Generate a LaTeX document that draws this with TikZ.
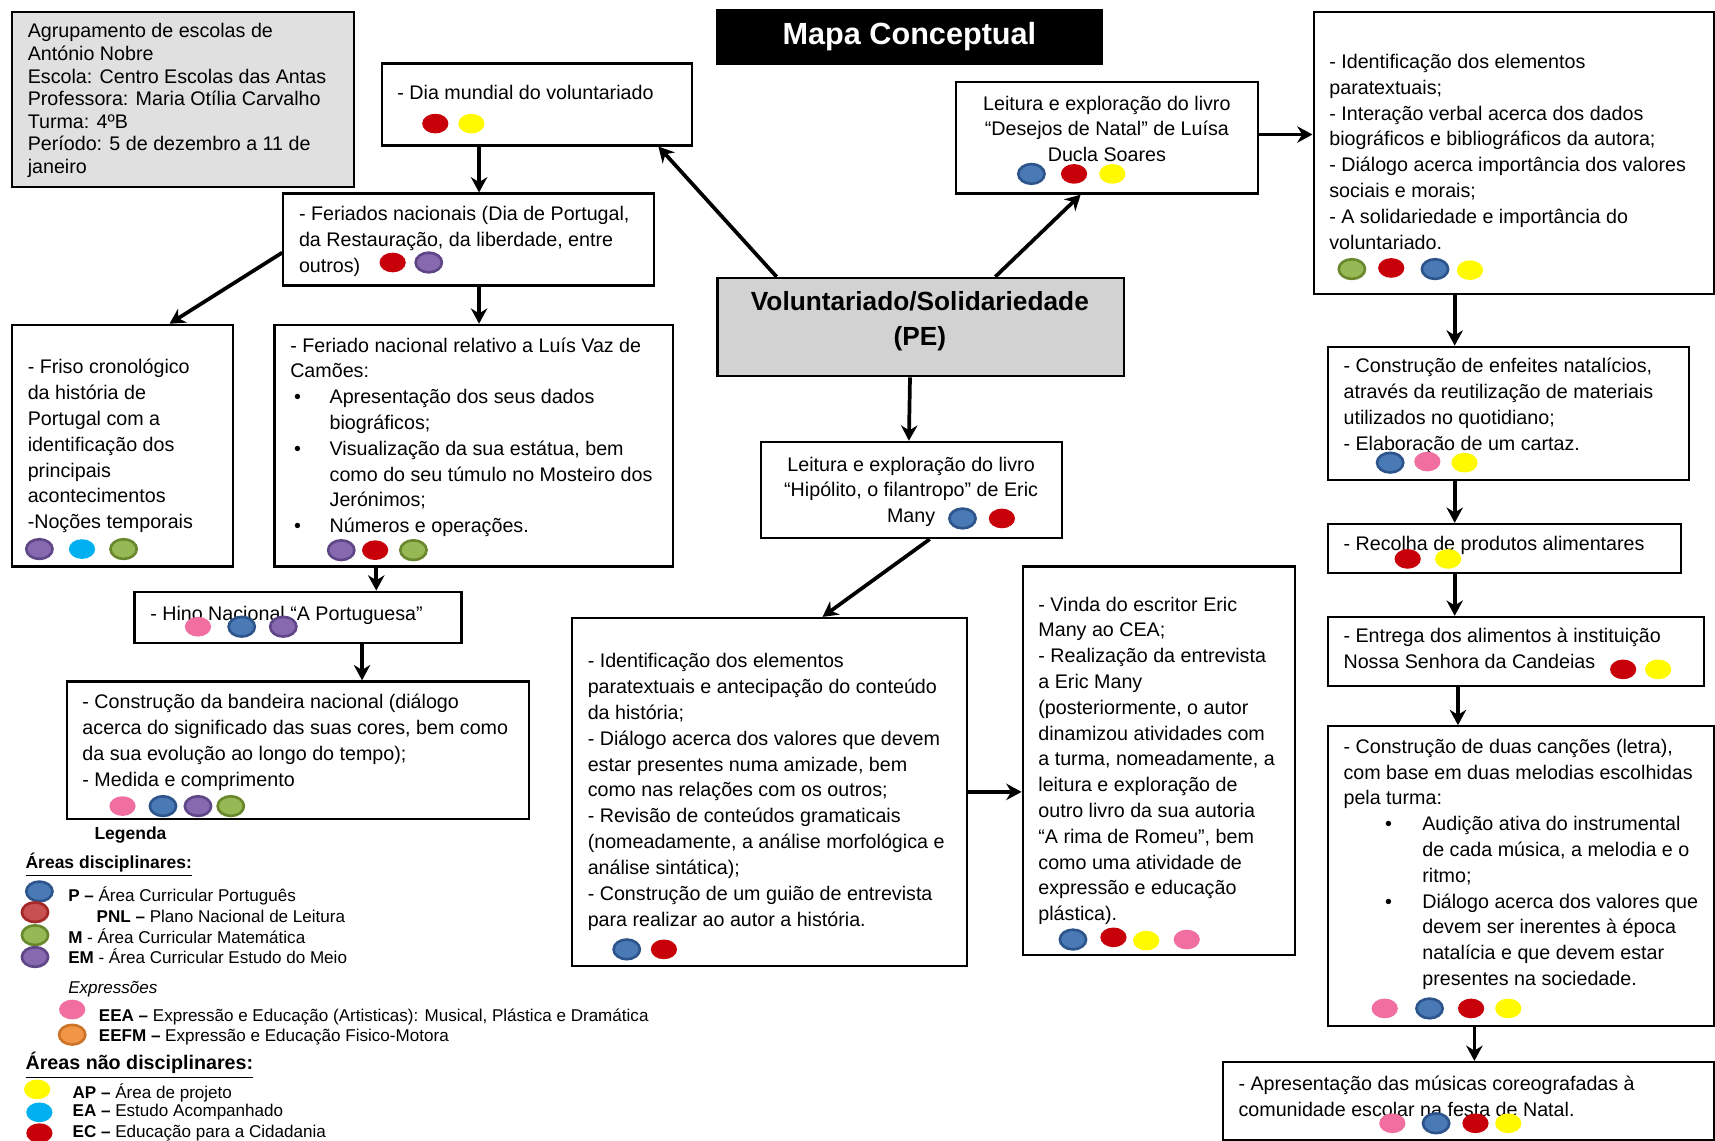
\documentclass[tikz,border=0pt]{standalone}
\usepackage{fontspec}
\setmainfont{Liberation Sans}
\usetikzlibrary{arrows.meta}

\definecolor{azul}{RGB}{74,122,182}
\definecolor{azulesc}{RGB}{45,85,140}
\definecolor{vermelho}{RGB}{200,0,10}
\definecolor{amarelo}{RGB}{255,250,0}
\definecolor{roxo}{RGB}{135,105,175}
\definecolor{roxoesc}{RGB}{95,70,135}
\definecolor{verde}{RGB}{150,185,85}
\definecolor{verdeesc}{RGB}{105,135,45}
\definecolor{rosa}{RGB}{240,110,160}
\definecolor{ciano}{RGB}{0,176,240}
\definecolor{laranja}{RGB}{240,150,70}
\definecolor{laranjaesc}{RGB}{205,115,40}
\definecolor{pnl}{RGB}{200,80,80}
\definecolor{pnlesc}{RGB}{165,40,40}
\definecolor{cinza}{RGB}{224,224,224}
\definecolor{cinzacentro}{RGB}{210,210,210}

\newcommand{\bola}[3]{\path[#1] (#2,#3) ellipse (6pt and 4.5pt);}

\begin{document}
\begin{tikzpicture}[x=0.5pt, y=-0.5pt]
        % Define styles for nodes, dots and arrows
        \tikzstyle{box} = [rectangle, draw=black, line width=1pt, inner sep=0pt, anchor=north west]
        \tikzstyle{txt} = [inner sep=0pt, anchor=north west, align=left, font=\fontsize{9}{11.8}\selectfont, execute at begin node={\strut}]
        \tikzstyle{ctxt} = [txt, anchor=north, align=center]
        \tikzstyle{leg} = [inner sep=0pt, anchor=west, font=\fontsize{7.8}{9}\selectfont]
        \tikzstyle{arrow} = [line width=1.7pt, -{Stealth[length=7pt, width=7.5pt]}]
        \tikzstyle{pazul} = [fill=azul, draw=azulesc, line width=1.2pt]
        \tikzstyle{pverm} = [fill=vermelho]
        \tikzstyle{pamar} = [fill=amarelo]
        \tikzstyle{proxo} = [fill=roxo, draw=roxoesc, line width=1.2pt]
        \tikzstyle{pverde} = [fill=verde, draw=verdeesc, line width=1.2pt]
        \tikzstyle{prosa} = [fill=rosa]
        \tikzstyle{pciano} = [fill=ciano]
        \tikzstyle{plaranja} = [fill=laranja, draw=laranjaesc, line width=1.2pt]
        \tikzstyle{ppnl} = [fill=pnl, draw=pnlesc, line width=1.2pt]

        \path[use as bounding box, fill=white] (0,0) rectangle (1568,1043);

        % Title and header
        \node (titulo) [rectangle, fill=black, text=white, inner sep=0pt, minimum width=176.5pt, minimum height=25.5pt, font=\fontsize{14}{16}\selectfont\bfseries] at (831.5,33.5) {Mapa Conceptual};
        \node (info) [box, fill=cinza, minimum width=156.5pt, minimum height=80pt] at (10,10) {};
        \node (info-t) [txt, font=\fontsize{9}{10.3}\selectfont] at (25,21.3) {Agrupamento de escolas de\\António Nobre\\Escola: Centro Escolas das Antas\\Professora: Maria Otília Carvalho\\Turma: 4ºB\\Período: 5 de dezembro a 11 de\\janeiro};

        % Central theme
        \node (centro) [box, fill=cinzacentro, minimum width=186pt, minimum height=45pt] at (655,253) {};
        \node (centro-t) [ctxt, font=\fontsize{12}{16}\selectfont\bfseries] at (841,266) {Voluntariado/Solidariedade\\(PE)};

        % Left branch
        \node (dia) [box, minimum width=142pt, minimum height=37.5pt] at (348,57) {};
        \node (dia-t) [txt] at (363,74.2) {- Dia mundial do voluntariado};
        \bola{pverm}{398}{113} \bola{pamar}{431}{113}

        \node (feriados) [box, minimum width=169.5pt, minimum height=42pt] at (258,176) {};
        \node (feriados-t) [txt] at (273,188.2) {- Feriados nacionais (Dia de Portugal,\\da Restauração, da liberdade, entre\\outros)};
        \bola{pverm}{359}{240} \bola{proxo}{392}{240}

        \node (friso) [box, minimum width=101pt, minimum height=110.5pt] at (10,296) {};
        \node (friso-t) [txt] at (25,328.2) {- Friso cronológico\\da história de\\Portugal com a\\identificação dos\\principais\\acontecimentos\\-Noções temporais};
        \bola{proxo}{36}{502} \bola{pciano}{75}{502} \bola{pverde}{113}{502}

        \node (camoes) [box, minimum width=182pt, minimum height=110.5pt] at (250,296) {};
        \node (camoes-t) [txt] at (265,308.2) {- Feriado nacional relativo a Luís Vaz de\\Camões:\\
            \hspace*{1.75pt}\makebox[16.25pt][l]{\textbullet}Apresentação dos seus dados\\\hspace*{18pt}biográficos;\\
            \hspace*{1.75pt}\makebox[16.25pt][l]{\textbullet}Visualização da sua estátua, bem\\\hspace*{18pt}como do seu túmulo no Mosteiro dos\\\hspace*{18pt}Jerónimos;\\
            \hspace*{1.75pt}\makebox[16.25pt][l]{\textbullet}Números e operações.};
        \bola{proxo}{312}{503} \bola{pverm}{343}{503} \bola{pverde}{378}{503}

        \node (hino) [box, minimum width=149.5pt, minimum height=23.5pt] at (122,540) {};
        \node (hino-t) [txt] at (137,550.2) {- Hino Nacional “A Portuguesa”};
        \bola{prosa}{181}{573} \bola{pazul}{221}{573} \bola{proxo}{259}{573}

        \node (bandeira) [box, minimum width=211.5pt, minimum height=63pt] at (60,622) {};
        \node (bandeira-t) [txt] at (75,634.2) {- Construção da bandeira nacional (diálogo\\acerca do significado das suas cores, bem como\\da sua evolução ao longo do tempo);\\- Medida e comprimento};
        \bola{prosa}{112}{737} \bola{pazul}{149}{737} \bola{proxo}{181}{737} \bola{pverde}{211}{737}

        % Centre branch
        \node (hipolito) [box, minimum width=137.5pt, minimum height=44pt] at (695,403) {};
        \node (hipolito-t) [ctxt] at (833,417.2) {Leitura e exploração do livro\\“Hipólito, o filantropo” de Eric\\Many};
        \bola{pazul}{880}{474} \bola{pverm}{916}{474}

        \node (ident) [box, minimum width=180.5pt, minimum height=159pt] at (522,564) {};
        \node (ident-t) [txt] at (537,597.2) {- Identificação dos elementos\\paratextuais e antecipação do conteúdo\\da história;\\- Diálogo acerca dos valores que devem\\estar presentes numa amizade, bem\\como nas relações com os outros;\\- Revisão de conteúdos gramaticais\\(nomeadamente, a análise morfológica e\\análise sintática);\\- Construção de um guião de entrevista\\para realizar ao autor a história.};
        \bola{pazul}{573}{868} \bola{pverm}{607}{868}

        \node (vinda) [box, minimum width=124.5pt, minimum height=177.5pt] at (934,517) {};
        \node (vinda-t) [txt] at (949,545.2) {- Vinda do escritor Eric\\Many ao CEA;\\- Realização da entrevista\\a Eric Many\\(posteriormente, o autor\\dinamizou atividades com\\a turma, nomeadamente, a\\leitura e exploração de\\outro livro da sua autoria\\“A rima de Romeu”, bem\\como uma atividade de\\expressão e educação\\plástica).};
        \bola{pazul}{981}{859} \bola{pverm}{1018}{857} \bola{pamar}{1048}{860} \bola{prosa}{1085}{859}

        % Right branch
        \node (desejos) [box, minimum width=138pt, minimum height=51pt] at (873,74) {};
        \node (desejos-t) [ctxt] at (1012,87.2) {Leitura e exploração do livro\\“Desejos de Natal” de Luísa\\Ducla Soares};
        \bola{pazul}{943}{159} \bola{pverm}{982}{159} \bola{pamar}{1017}{159}

        \node (dados) [box, minimum width=183pt, minimum height=129pt] at (1200,10) {};
        \node (dados-t) [txt] at (1215,49.2) {- Identificação dos elementos\\paratextuais;\\- Interação verbal acerca dos dados\\biográficos e bibliográficos da autora;\\- Diálogo acerca importância dos valores\\sociais e morais;\\- A solidariedade e importância do\\voluntariado.};
        \bola{pverde}{1236}{246} \bola{pverm}{1272}{245} \bola{pazul}{1312}{246} \bola{pamar}{1344}{247}

        \node (enfeites) [box, minimum width=165pt, minimum height=61pt] at (1213,316) {};
        \node (enfeites-t) [txt] at (1228,327.2) {- Construção de enfeites natalícios,\\através da reutilização de materiais\\utilizados no quotidiano;\\- Elaboração de um cartaz.};
        \bola{pazul}{1271}{423} \bola{prosa}{1305}{422} \bola{pamar}{1339}{423}

        \node (recolha) [box, minimum width=161.5pt, minimum height=22.5pt] at (1213,478) {};
        \node (recolha-t) [txt] at (1228,486.2) {- Recolha de produtos alimentares};
        \bola{pverm}{1287}{511} \bola{pamar}{1324}{511}

        \node (entrega) [box, minimum width=172pt, minimum height=31.5pt] at (1213,563) {};
        \node (entrega-t) [txt] at (1228,574.2) {- Entrega dos alimentos à instituição\\Nossa Senhora da Candeias};
        \bola{pverm}{1484}{612} \bola{pamar}{1516}{612}

        \node (cancoes) [box, minimum width=176.5pt, minimum height=137pt] at (1213,663) {};
        \node (cancoes-t) [txt] at (1228,675.2) {- Construção de duas canções (letra),\\com base em duas melodias escolhidas\\pela turma:\\
            \hspace*{19pt}\makebox[17pt][l]{\textbullet}Audição ativa do instrumental\\\hspace*{36pt}de cada música, a melodia e o\\\hspace*{36pt}ritmo;\\
            \hspace*{19pt}\makebox[17pt][l]{\textbullet}Diálogo acerca dos valores que\\\hspace*{36pt}devem ser inerentes à época\\\hspace*{36pt}natalícia e que devem estar\\\hspace*{36pt}presentes na sociedade.};
        \bola{prosa}{1266}{922} \bola{pazul}{1307}{922} \bola{pverm}{1345}{922} \bola{pamar}{1379}{922}

        \node (apresent) [box, minimum width=224.5pt, minimum height=35.5pt] at (1117,970) {};
        \node (apresent-t) [txt] at (1132,983.2) {- Apresentação das músicas coreografadas à\\comunidade escolar na festa de Natal.};
        \bola{prosa}{1273}{1027} \bola{pazul}{1313}{1027} \bola{pverm}{1349}{1027} \bola{pamar}{1379}{1027}

        % Legend
        \node (legenda) [leg, font=\fontsize{8}{9}\selectfont\bfseries] at (86,763) {Legenda};
        \node (areas) [leg, font=\fontsize{8}{9}\selectfont\bfseries] at (23,791) {\underline{Áreas disciplinares:}};
        \node (leg-p) [leg] at (62,819) {\textbf{P –} Área Curricular Português};
        \node (leg-pnl) [leg] at (88,838) {\textbf{PNL –} Plano Nacional de Leitura};
        \node (leg-m) [leg] at (62,856) {\textbf{M} - Área Curricular Matemática};
        \node (leg-em) [leg] at (62,874) {\textbf{EM} - Área Curricular Estudo do Meio};
        \node (expr) [leg, font=\fontsize{7.8}{9}\selectfont\itshape] at (62,904) {Expressões};
        \node (leg-eea) [leg] at (90,930) {\textbf{EEA –} Expressão e Educação (Artisticas): Musical, Plástica e Dramática};
        \node (leg-eefm) [leg] at (90,948) {\textbf{EEFM –} Expressão e Educação Fisico-Motora};
        \node (naodisc) [leg, font=\fontsize{9}{10}\selectfont\bfseries] at (23,974) {\underline{Áreas não disciplinares:}};
        \node (leg-ap) [leg] at (66,999) {\textbf{AP –} Área de projeto};
        \node (leg-ea) [leg] at (66,1017) {\textbf{EA –} Estudo Acompanhado};
        \node (leg-ec) [leg] at (66,1036) {\textbf{EC –} Educação para a Cidadania};
        \bola{pazul}{36}{815} \bola{ppnl}{32}{834} \bola{pverde}{32}{855} \bola{proxo}{32}{875}
        \bola{prosa}{66}{923} \bola{plaranja}{66}{946}
        \bola{pamar}{34}{996} \bola{pciano}{36}{1017} \bola{pverm}{36}{1036}

        % Arrows
        \draw [arrow] ([xshift=27.5pt]centro.north west) -- ([xshift=-16pt]dia.south east);
        \draw [arrow] ([xshift=127.5pt]centro.north west) -- ([xshift=57.5pt]desejos.south west);
        \draw [arrow] ([xshift=45pt]dia.south west) -- ([xshift=90pt]feriados.north west);
        \draw [arrow] ([xshift=90pt]feriados.south west) -- ([xshift=94pt]camoes.north west);
        \draw [arrow] ([yshift=-6pt]feriados.west) -- ([xshift=72.5pt]friso.north west);
        \draw [arrow] ([xshift=47pt]camoes.south west) -- ([xshift=111pt]hino.north west);
        \draw [arrow] ([xshift=104.5pt]hino.south west) -- ([xshift=135.5pt]bandeira.north west);
        \draw [arrow] ([xshift=-5pt]centro.south) -- ([xshift=68pt]hipolito.north west);
        \draw [arrow] ([xshift=77.5pt]hipolito.south west) -- ([xshift=115pt]ident.north west);
        \draw [arrow] (ident.east) -- (ident.east -| vinda.west);
        \draw [arrow] ([yshift=1.5pt]desejos.east) -- ([yshift=1.5pt]desejos.east -| dados.west);
        \draw [arrow] ([xshift=65pt]dados.south west) -- ([xshift=58.5pt]enfeites.north west);
        \draw [arrow] ([xshift=58.5pt]enfeites.south west) -- ([xshift=58.5pt]recolha.north west);
        \draw [arrow] ([xshift=58.5pt]recolha.south west) -- ([xshift=58.5pt]entrega.north west);
        \draw [arrow] ([xshift=60pt]entrega.south west) -- ([xshift=60pt]cancoes.north west);
        \draw [arrow] ([xshift=67.5pt]cancoes.south west) -- ([xshift=115.5pt]apresent.north west);
\end{tikzpicture}
\end{document}
